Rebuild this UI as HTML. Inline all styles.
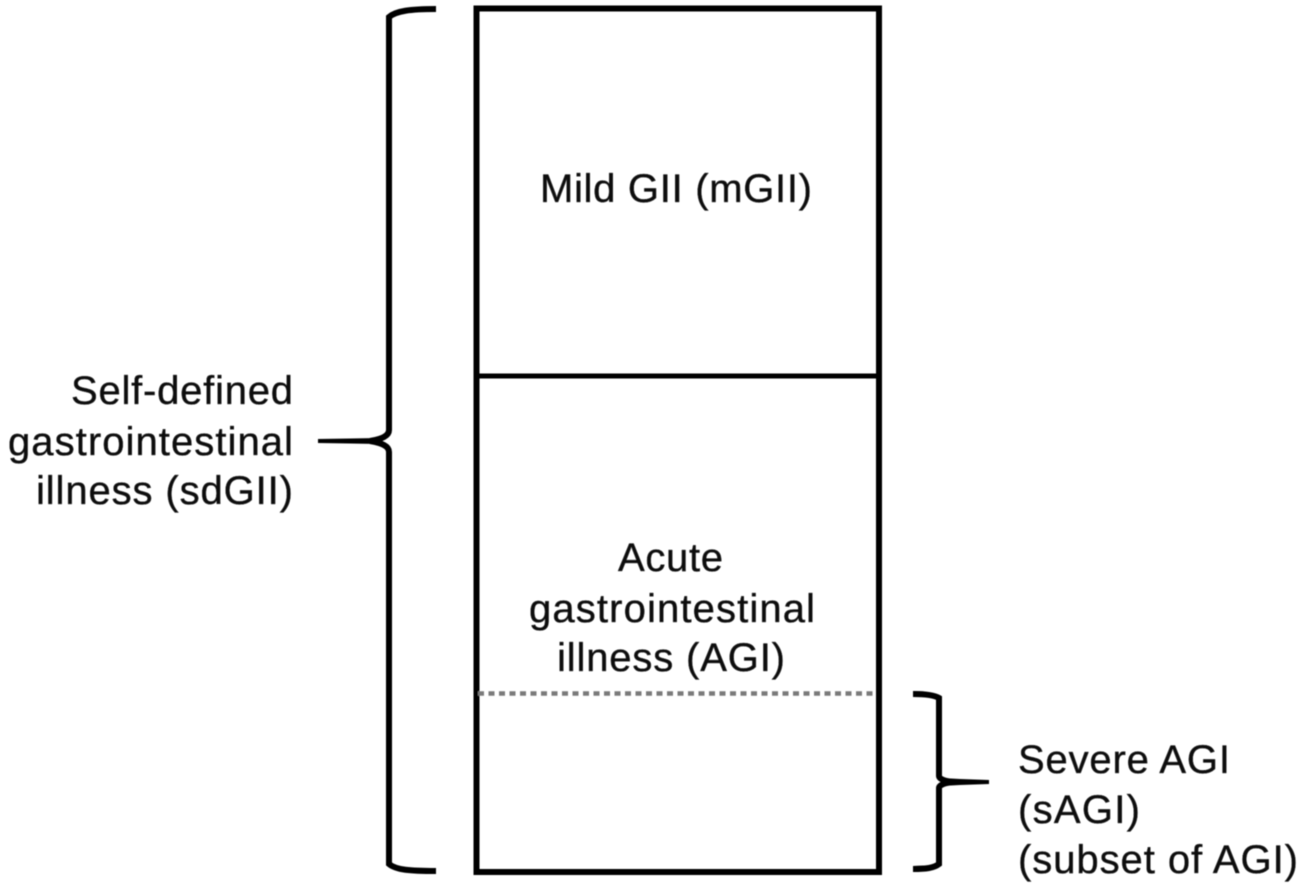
<!DOCTYPE html>
<html>
<head>
<meta charset="utf-8">
<style>
html,body{margin:0;padding:0;background:#fff;width:1311px;height:894px;overflow:hidden}
svg{display:block}
text{font-family:"Liberation Sans",Arial,sans-serif;font-size:40px;fill:#0a0a0a;stroke:#0a0a0a;stroke-width:0.35px}
</style>
</head>
<body>
<svg width="1311" height="894" viewBox="0 0 1311 894" xmlns="http://www.w3.org/2000/svg">
<defs>
<filter id="b" x="-5%" y="-5%" width="110%" height="110%"><feGaussianBlur stdDeviation="0.5"/></filter>
<filter id="t" x="-5%" y="-5%" width="110%" height="110%"><feGaussianBlur stdDeviation="0.45"/></filter>
</defs>
<g fill="none" stroke="#000" filter="url(#b)">
<rect x="476.5" y="8.5" width="402.5" height="863.5" stroke-width="6"/>
<line x1="476" y1="376" x2="879" y2="376" stroke-width="5"/>
<line x1="478" y1="693.5" x2="877" y2="693.5" stroke="#7a7a7a" stroke-width="4.5" stroke-dasharray="6 4.5"/>
<path d="M436 9 C410 9 396 11 389 17 L389 430 C389 436 382 439 370 441 M370 441 C382 443 389 446 389 452 L389 864 C396 870 410 871 436 871" stroke-width="6"/>
<path d="M913 694 C926 694 934 695 939 698 L939 776 C939 779 945 781 952 782 M952 782 C945 783 939 785 939 788 L939 864 C934 868 926 869 913 869" stroke-width="6"/>
<path d="M318 439 L350 438.5 L378 438 L378 444 L350 443.5 L318 443 Z" fill="#000" stroke="none"/>
<path d="M942 778 L960 779 L989 780 L989 784 L960 785 L942 786 Z" fill="#000" stroke="none"/>
<path d="M913 691 L925 691.5 L925 696.5 L913 697 Z M913 866 L925 865.5 L925 870.5 L913 872 Z" fill="#000" stroke="none"/>
</g>
<g filter="url(#t)">
<text x="540" y="202" textLength="272" lengthAdjust="spacing">Mild GII (mGII)</text>
<text x="71" y="404" textLength="222" lengthAdjust="spacing">Self-defined</text>
<text x="8" y="455" textLength="285" lengthAdjust="spacing">gastrointestinal</text>
<text x="36" y="504" textLength="257" lengthAdjust="spacing">illness (sdGII)</text>
<text x="618" y="571" textLength="105" lengthAdjust="spacing">Acute</text>
<text x="529" y="622" textLength="286" lengthAdjust="spacing">gastrointestinal</text>
<text x="557" y="671" textLength="228" lengthAdjust="spacing">illness (AGI)</text>
<text x="1018" y="773" textLength="212" lengthAdjust="spacing">Severe AGI</text>
<text x="1018" y="823" textLength="122" lengthAdjust="spacing">(sAGI)</text>
<text x="1018" y="873" textLength="280" lengthAdjust="spacing">(subset of AGI)</text>
</g>
</svg>
</body>
</html>
